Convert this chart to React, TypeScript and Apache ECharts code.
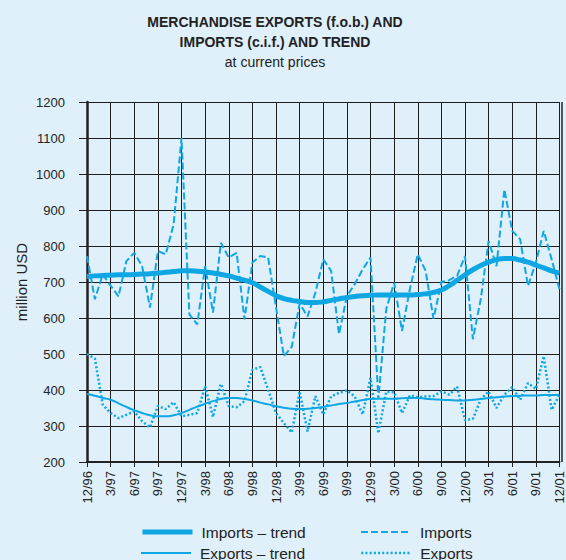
import React, { useEffect, useRef } from "react";
import * as echarts from "echarts";

const months: string[] = [
  "12/96",
  "1/97","2/97","3/97","4/97","5/97","6/97","7/97","8/97","9/97","10/97","11/97","12/97",
  "1/98","2/98","3/98","4/98","5/98","6/98","7/98","8/98","9/98","10/98","11/98","12/98",
  "1/99","2/99","3/99","4/99","5/99","6/99","7/99","8/99","9/99","10/99","11/99","12/99",
  "1/00","2/00","3/00","4/00","5/00","6/00","7/00","8/00","9/00","10/00","11/00","12/00",
  "1/01","2/01","3/01","4/01","5/01","6/01","7/01","8/01","9/01","10/01","11/01","12/01",
];

const imports: number[] = [
  772,
  652, 721, 690, 660, 758, 781, 744, 629, 786, 777, 860, 1100,
  610, 582, 744, 615, 809, 768, 781, 596, 754, 772, 768, 630,
  494, 520, 640, 604, 670, 763, 731, 555, 661, 694, 735, 768,
  375, 625, 698, 564, 680, 777, 731, 598, 700, 705, 717, 772,
  541, 652, 814, 744, 957, 842, 819, 689, 754, 842, 763, 680,
];

const importsTrend: number[] = [
  715,
  717, 718, 719, 720, 720, 721, 722, 723, 725, 727, 729, 731,
  731, 730, 728, 725, 721, 717, 711, 705, 698, 686, 674, 662,
  654, 649, 646, 643, 643, 645, 649, 653, 657, 660, 662, 663,
  664, 664, 664, 664, 664, 665, 667, 671, 678, 690, 705, 720,
  734, 746, 755, 762, 765, 765, 761, 755, 747, 739, 731, 725,
];

const exportsData: number[] = [
  500,
  487, 359, 336, 322, 331, 341, 313, 296, 356, 347, 366, 327,
  331, 336, 410, 325, 417, 355, 352, 369, 456, 464, 401, 336,
  308, 282, 396, 285, 383, 332, 382, 392, 399, 382, 332, 433,
  280, 395, 394, 336, 385, 380, 382, 383, 396, 387, 409, 316,
  320, 374, 396, 350, 387, 408, 373, 419, 403, 494, 345, 387,
];

const exportsTrend: number[] = [
  389,
  384, 378, 373, 363, 353, 344, 336, 330, 327, 327, 330, 336,
  345, 354, 362, 369, 375, 378, 378, 375, 371, 365, 360, 355,
  351, 348, 347, 348, 350, 353, 357, 361, 364, 368, 372, 375,
  376, 376, 376, 377, 378, 378, 376, 374, 373, 372, 371, 371,
  373, 375, 378, 380, 382, 383, 384, 385, 385, 386, 386, 387,
];

const titleLines = "MERCHANDISE EXPORTS (f.o.b.) AND\nIMPORTS (c.i.f.) AND TREND";
const subtitle = "at current prices";
const yAxisName = "million USD";
const names = {
  impTrend: "Imports \u2013 trend",
  imp: "Imports",
  expTrend: "Exports \u2013 trend",
  exp: "Exports",
};

const FONT = "'Liberation Sans', Arial, Helvetica, sans-serif";
const BLUE = "#0EA6E3";
const BG = "#DFF0FA";
const INK = "#222222";

export default function App() {
  const ref = useRef<HTMLDivElement>(null);
  useEffect(() => {
    if (!ref.current) return;
    const chart = echarts.init(ref.current, undefined, { renderer: "svg" });
    const legendBase = {
      orient: "horizontal" as const,
      padding: 0,
      itemWidth: 50,
      itemHeight: 14,
      itemStyle: { opacity: 0 },
      textStyle: { fontFamily: FONT, fontSize: 15.5, color: INK, padding: [0, 0, 0, 4] },
      selectedMode: false,
    };
    chart.setOption({
      animation: false,
      backgroundColor: BG,
      textStyle: { fontFamily: FONT },
      title: {
        text: titleLines,
        subtext: subtitle,
        left: 275,
        top: 12,
        textAlign: "center",
        padding: 0,
        itemGap: 0,
        textStyle: { fontFamily: FONT, fontSize: 14, fontWeight: "bold", color: INK, lineHeight: 20 },
        subtextStyle: { fontFamily: FONT, fontSize: 14, color: INK, lineHeight: 20 },
      },
      legend: [
        { ...legendBase, left: 140, top: 524, data: [names.impTrend], lineStyle: { width: 5 } },
        { ...legendBase, left: 360, top: 524, data: [names.imp], lineStyle: { width: 2 } },
        { ...legendBase, left: 140, top: 545, data: [names.expTrend], lineStyle: { width: 2 } },
        { ...legendBase, left: 360, top: 545, data: [names.exp], lineStyle: { width: 2.5 } },
      ],
      grid: { left: 87, right: 4, top: 102, bottom: 98, containLabel: false },
      xAxis: {
        type: "category",
        data: months,
        boundaryGap: false,
        axisLine: { show: true, lineStyle: { color: INK, width: 2 } },
        axisTick: { show: true, interval: 2, length: 5, lineStyle: { color: INK } },
        axisLabel: {
          interval: 2,
          rotate: 90,
          margin: 9,
          fontFamily: FONT,
          fontSize: 13,
          color: INK,
        },
        splitLine: { show: true, interval: 2, lineStyle: { color: "#1e1e1e", width: 1 } },
      },
      yAxis: {
        type: "value",
        min: 200,
        max: 1200,
        interval: 100,
        name: yAxisName,
        nameLocation: "middle",
        nameGap: 58,
        nameMoveOverlap: false,
        nameTextStyle: { fontFamily: FONT, fontSize: 15, color: INK },
        axisLine: { show: true, lineStyle: { color: INK, width: 2.5 } },
        axisTick: { show: true, length: 8, lineStyle: { color: INK } },
        axisLabel: {
          margin: 22,
          fontFamily: FONT,
          fontSize: 13,
          color: INK,
          formatter: (v: number) => String(v),
        },
        splitLine: { show: true, lineStyle: { color: "#1e1e1e", width: 1 } },
      },
      graphic: [
        {
          type: "line",
          shape: { x1: 562, y1: 102, x2: 562, y2: 462 },
          style: { stroke: INK, lineWidth: 1.5 },
          z: 10,
        },
      ],
      series: [
        {
          name: names.imp,
          type: "line",
          data: imports,
          symbol: "none",
          lineStyle: { color: BLUE, width: 2, type: [7, 3] },
          itemStyle: { color: BLUE },
          z: 3,
        },
        {
          name: names.exp,
          type: "line",
          data: exportsData,
          symbol: "none",
          lineStyle: { color: BLUE, width: 2.5, type: [2, 2.2] },
          itemStyle: { color: BLUE },
          z: 3,
        },
        {
          name: names.impTrend,
          type: "line",
          data: importsTrend,
          symbol: "none",
          smooth: true,
          lineStyle: { color: BLUE, width: 5 },
          itemStyle: { color: BLUE },
          z: 4,
        },
        {
          name: names.expTrend,
          type: "line",
          data: exportsTrend,
          symbol: "none",
          smooth: true,
          lineStyle: { color: BLUE, width: 2 },
          itemStyle: { color: BLUE },
          z: 4,
        },
      ],
    });
    return () => chart.dispose();
  }, []);
  return (
    <div
      ref={ref}
      style={{ position: "fixed", left: 0, top: 0, width: 566, height: 560 }}
    />
  );
}
